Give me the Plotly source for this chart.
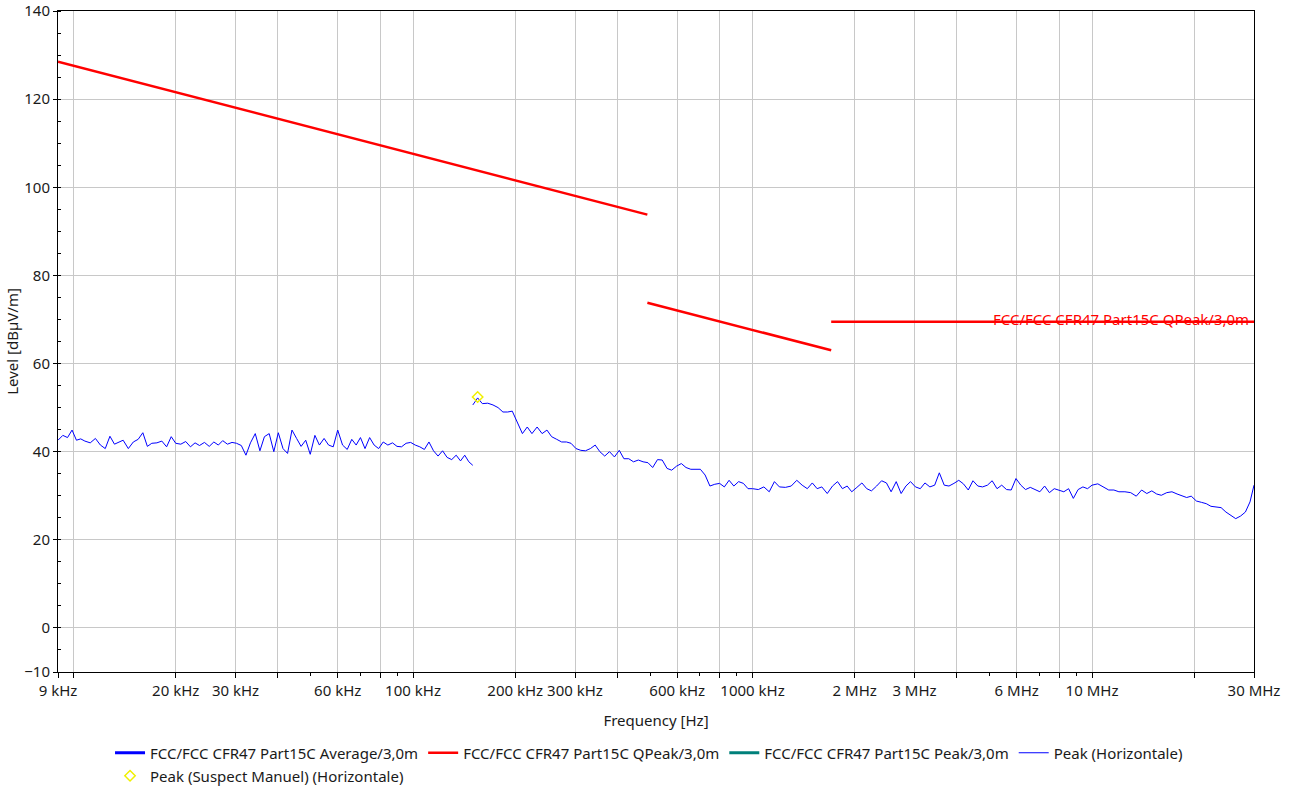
import plotly.graph_objects as go

# ---------------- data ----------------
# Peak (Horizontale) trace, segment 1 (9 kHz .. 150 kHz)
seg1_freq_khz = [9.0, 9.3, 9.6, 9.9, 10.2, 10.5, 10.8, 11.2, 11.6, 12.0, 12.4, 12.8, 13.2, 13.6, 14.0,
                 14.5, 15.0, 15.5, 16.0, 16.5, 17.0, 17.6, 18.2, 18.8, 19.4, 20.0, 20.7, 21.4, 22.1,
                 22.8, 23.5, 24.3, 25.1, 25.9, 26.7, 27.5, 28.4, 29.3, 30.2, 31.2, 32.2, 33.2, 34.3,
                 35.4, 36.5, 37.7, 38.9, 40.1, 41.4, 42.7, 44.0, 45.4, 46.8, 48.3, 49.8, 51.4, 53.0,
                 54.7, 56.4, 58.2, 60.0, 62, 64, 66, 68, 70, 72.2, 74.5, 76.8, 79.2, 81.7, 84.3, 87,
                 89.7, 92.5, 95.4, 98.4, 101.5, 104.7, 108, 111.4, 114.9, 118.5, 122.2, 126, 130, 134,
                 138, 142, 146, 150]
seg1_level = [42.6, 43.7, 43.2, 44.9, 42.6, 42.9, 42.4, 42.0, 43.0, 41.5, 40.7, 43.5, 41.7, 42.2, 42.6,
              40.7, 42.2, 42.8, 44.3, 41.2, 41.9, 42.0, 42.4, 41.1, 43.4, 41.9, 41.7, 42.3, 41.1,
              42.0, 41.4, 42.1, 41.2, 42.2, 41.5, 42.5, 41.7, 42.1, 41.9, 41.4, 39.2, 42.0, 44.1,
              40.2, 43.4, 44.1, 40.0, 44.3, 40.7, 39.6, 44.9, 43.0, 41.2, 42.6, 39.4, 43.7, 41.5,
              43.0, 41.5, 41.1, 44.9, 41.5, 40.5, 42.8, 41.5, 43.2, 40.7, 43.2, 41.5, 40.7, 42.2, 41.5, 42.0,
              41.2, 41.1, 41.9, 42.1, 41.5, 41.1, 40.5, 42.2, 40.2, 39.0, 40.2, 38.7, 38.2, 39.2,
              37.9, 39.2, 37.7, 36.9]

# segment 2 (150 kHz .. 30 MHz)
seg2_freq_khz = [150, 155, 160, 166, 172, 178, 184, 190, 196, 203, 210, 217, 224, 232, 240, 248, 256, 265,
                 274, 283, 292, 302, 312, 322, 333, 344, 355, 367, 379, 392, 405, 418, 432, 446, 461,
                 476, 492, 508, 525, 542, 560, 578, 597, 617, 637, 658, 680, 702, 725, 749, 774, 800,
                 826, 853, 881, 910, 940, 970,
                 1000, 1040, 1080, 1120, 1160, 1200, 1250, 1300, 1350, 1400, 1450, 1500, 1550, 1600,
                 1660, 1720, 1780, 1840, 1900, 1960, 2030, 2100, 2170, 2240, 2320, 2400, 2480, 2560,
                 2650, 2740, 2830, 2920, 3020, 3120, 3220, 3330, 3440, 3550, 3670, 3790, 3920, 4050,
                 4180, 4320, 4460, 4610, 4760, 4920, 5080, 5250, 5420, 5600, 5780, 5970, 6170, 6370,
                 6580, 6800, 7020, 7250, 7490, 7740, 8000, 8260, 8530, 8810, 9100, 9400, 9700,
                 10000, 10400, 10800, 11200, 11600, 12000, 12500, 13000, 13500, 14000, 14500, 15000,
                 15500, 16000, 16600, 17200, 17800, 18400, 19000, 19600, 20300, 21000, 21700, 22400,
                 23200, 24000, 24800, 25600, 26500, 27400, 28300, 29200, 30000]
seg2_level = [50.6, 52.2, 50.9, 51.0, 50.6, 50.0, 49.0, 49.0, 49.2, 46.5, 44.1, 45.6, 44.1, 45.6, 44.1,
              44.9, 43.4, 42.8, 42.2, 42.2, 41.9, 40.7, 40.3, 40.2, 40.7, 41.5, 40.0, 39.0, 40.0,
              38.8, 40.3, 38.4, 38.4, 37.7, 38.1, 37.7, 37.5, 36.4, 38.2, 38.1, 36.2, 35.8, 36.7,
              37.3, 36.4, 36.0, 36.0, 36.0, 34.7, 32.2, 32.6, 32.8, 32.0, 33.5, 32.2, 33.2, 32.8, 31.6,
              31.6, 31.4, 32.0, 30.9, 33.2, 32.0, 31.9, 32.2, 33.5, 32.4, 31.6, 32.9, 31.6, 32.0,
              30.5, 32.2, 33.2, 31.6, 32.2, 30.9, 31.9, 32.9, 31.6, 31.1, 32.2, 33.4, 32.9, 30.9,
              33.2, 30.5, 32.2, 33.2, 32.0, 31.6, 32.9, 32.0, 32.4, 35.2, 32.4, 32.2, 32.8, 33.5,
              32.7, 31.3, 33.4, 32.2, 32.0, 32.4, 33.4, 31.6, 32.4, 31.4, 31.3, 33.9, 32.4, 31.4,
              31.9, 31.3, 30.9, 32.2, 30.7, 31.6, 31.3, 30.9, 31.6, 29.4, 31.4, 32.0, 31.6,
              32.4, 32.7, 31.9, 31.3, 31.3, 30.9, 30.9, 30.7, 29.9, 31.3, 30.5, 31.1,
              30.4, 30.1, 30.7, 30.9, 30.4, 29.9, 29.6, 29.9, 28.8, 28.5, 28.2, 27.6,
              27.5, 27.3, 26.3, 25.6, 24.8, 25.4, 26.3, 28.6, 32.4]

# QPeak limit line segments (FCC Part 15C, 3 m)
qpeak_a_freq_khz = [9, 490]
qpeak_a_level = [128.5, 93.8]
qpeak_b_freq_khz = [490, 1705]
qpeak_b_level = [73.8, 63.0]
qpeak_c_freq_khz = [1705, 30000]
qpeak_c_level = [69.5, 69.5]

# Suspect marker
suspect_freq_khz = [155]
suspect_level = [52.4]

# axis ticks
x_tick_hz = [9e3, 1e4, 2e4, 3e4, 4e4, 6e4, 8e4, 1e5, 2e5, 3e5, 4e5, 6e5, 8e5, 1e6,
             2e6, 3e6, 4e6, 6e6, 8e6, 1e7, 2e7, 3e7]
x_tick_text = ["9 kHz", "", "20 kHz", "30 kHz", "", "60 kHz", "", "100 kHz", "200 kHz", "300 kHz", "",
               "600 kHz", "", "1000 kHz", "2 MHz", "3 MHz", "", "6 MHz", "", "10 MHz", "", "30 MHz"]
y_tick_vals = [-10, 0, 20, 40, 60, 80, 100, 120, 140]

# ---------------- figure ----------------
FONT = "Noto Sans"
FS = 15
TXT = "#1a1a1a"
peak_x = [f * 1000 for f in seg1_freq_khz] + [None] + [f * 1000 for f in seg2_freq_khz]
peak_y = seg1_level + [None] + seg2_level

fig = go.Figure()
fig.add_trace(go.Scatter(x=[None], y=[None], mode="lines", name="FCC/FCC CFR47 Part15C Average/3,0m",
                         line=dict(color="#0000ff", width=3), legend="legend"))
fig.add_trace(go.Scatter(x=[f * 1000 for f in qpeak_a_freq_khz] + [None] + [f * 1000 for f in qpeak_b_freq_khz]
                         + [None] + [f * 1000 for f in qpeak_c_freq_khz],
                         y=qpeak_a_level + [None] + qpeak_b_level + [None] + qpeak_c_level,
                         mode="lines", name="FCC/FCC CFR47 Part15C QPeak/3,0m",
                         line=dict(color="#ff0000", width=2.5), legend="legend"))
fig.add_trace(go.Scatter(x=[None], y=[None], mode="lines", name="FCC/FCC CFR47 Part15C Peak/3,0m",
                         line=dict(color="#00807a", width=3), legend="legend"))
fig.add_trace(go.Scatter(x=peak_x, y=peak_y, mode="lines", name="Peak (Horizontale)",
                         line=dict(color="#0000ff", width=1), legend="legend"))
fig.add_trace(go.Scatter(x=[f * 1000 for f in suspect_freq_khz], y=suspect_level, mode="markers",
                         name="Peak (Suspect Manuel) (Horizontale)", legend="legend2",
                         marker=dict(symbol="diamond-open", color="#f0f000", size=8, line=dict(width=1.5))))

fig.add_annotation(x=1, xref="paper", y=69.5, yref="y", text="FCC/FCC CFR47 Part15C QPeak/3,0m",
                   showarrow=False, xanchor="right", yanchor="middle", xshift=-3, yshift=3,
                   font=dict(family=FONT, size=FS, color="#ff0000"))

legend_common = dict(orientation="h", xanchor="left", yanchor="top",
                     font=dict(family=FONT, size=FS, color=TXT), tracegroupgap=0,
                     itemwidth=30, bgcolor="rgba(0,0,0,0)")

fig.update_layout(
    width=1289, height=830,
    margin=dict(l=58, r=35, t=11, b=158),
    paper_bgcolor="white", plot_bgcolor="white",
    font=dict(family=FONT, size=FS, color=TXT),
    showlegend=True,
    legend=dict(x=0.0435, y=-0.0976, **legend_common),
    legend2=dict(x=0.0435, y=-0.1324, **legend_common),
)
fig.update_xaxes(
    type="log", range=[3.954243, 7.477121], automargin=False, ticklabeloverflow="allow",
    tickvals=x_tick_hz, ticktext=x_tick_text, tickangle=0,
    showgrid=True, gridcolor="#c8c8c8", gridwidth=1,
    showline=True, linecolor="black", linewidth=1, mirror=True,
    ticks="outside", ticklen=5, tickcolor="black",
    minor=dict(ticks="outside", ticklen=3, tickcolor="black", dtick="D1", showgrid=False),
    title=dict(text="Frequency [Hz]", standoff=16, font=dict(family=FONT, size=FS)),
    zeroline=False,
)
fig.update_yaxes(
    range=[-10, 140], tickvals=y_tick_vals, automargin=False, ticklabeloverflow="allow",
    showgrid=True, gridcolor="#c8c8c8", gridwidth=1,
    showline=True, linecolor="black", linewidth=1, mirror=True,
    ticks="outside", ticklen=4, tickcolor="black",
    minor=dict(ticks="inside", ticklen=3, tickcolor="black", tick0=0, dtick=5, showgrid=False),
    title=dict(text="Level [dBµV/m]", standoff=2, font=dict(family=FONT, size=FS)),
    zeroline=False,
)

fig.write_html("out.html", config={"displayModeBar": False},
               post_script="document.body.style.margin='0';")
